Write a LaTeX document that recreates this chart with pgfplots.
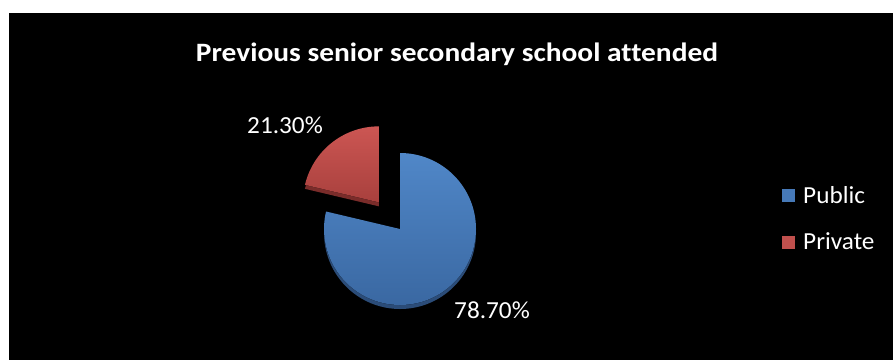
\documentclass[border=0pt]{standalone}
\usepackage{pgfplots}
\pgfplotsset{compat=1.18}
\usepackage{pgfplotstable}
\usepackage{fontspec}
\setmainfont{Carlito}[Ligatures=CommonOff, FakeStretch=1.03]
\newfontfamily\titlefont{Carlito}[Ligatures=CommonOff, FakeStretch=1.11]
\definecolor{bluetop}{HTML}{5087C8}
\definecolor{bluebot}{HTML}{3A68A2}
\definecolor{bluerim}{HTML}{2B4C78}
\definecolor{redtop}{HTML}{CC5653}
\definecolor{redbot}{HTML}{A8403D}
\definecolor{redrim}{HTML}{7A2C2A}
\definecolor{bluemark}{HTML}{4679B8}
\definecolor{redmark}{HTML}{C0504D}
\pgfplotstableread{
label value
Public 78.7
Private 21.3
}\piedata
\begin{document}
\begin{tikzpicture}
\pgfplotstablegetelem{0}{value}\of\piedata \let\vA\pgfplotsretval
\pgfplotstablegetelem{1}{value}\of\piedata \let\vB\pgfplotsretval
\pgfmathsetmacro\aStart{90}
\pgfmathsetmacro\aEnd{90-3.6*\vA}
\pgfmathsetmacro\bEnd{\aEnd-3.6*\vB}
\pgfmathsetmacro\bMid{(\aEnd+\bEnd)/2}
\begin{axis}[
  x=1pt, y=1pt, xmin=0, xmax=893, ymin=0, ymax=360, y dir=reverse,
  hide axis, clip=false, scale only axis,
  legend style={at={(axis cs:779,219)}, anchor=west, draw=none, fill=none,
    text=white, font=\fontsize{24.5}{28}\selectfont, row sep=26pt,
    nodes={inner sep=1pt},
    /tikz/every odd column/.append style={column sep=7pt}},
  legend cell align=left,
  legend image code/.code={\fill[#1, draw=none] (0pt,-6.5pt) rectangle (13pt,6.5pt);},
]
\fill[white] (axis cs:0,0) rectangle (axis cs:893,360);
\fill[black] (axis cs:9,13) rectangle (axis cs:893,360);
% blue slice: rim then face
\fill[bluerim] ([yshift=-4pt]axis cs:400,229) -- +(\aStart:76pt) arc[start angle=\aStart, end angle=\aEnd, radius=76pt] -- cycle;
\fill[top color=bluetop, bottom color=bluebot] (axis cs:400,229) -- +(\aStart:76pt) arc[start angle=\aStart, end angle=\aEnd, radius=76pt] -- cycle;
% red slice (exploded)
\fill[redrim] ([shift={(\bMid:34pt)}, yshift=-4pt]axis cs:400,229) -- +(\aEnd:76pt) arc[start angle=\aEnd, end angle=\bEnd, radius=76pt] -- cycle;
\fill[top color=redtop, bottom color=redbot] ([shift={(\bMid:34pt)}]axis cs:400,229) -- +(\aEnd:76pt) arc[start angle=\aEnd, end angle=\bEnd, radius=76pt] -- cycle;
% labels
\node[white, anchor=base, font=\fontsize{26.5}{30}\selectfont\titlefont\bfseries] at (axis cs:457,61) {Previous senior secondary school attended};
\node[white, anchor=base, font=\fontsize{24.5}{28}\selectfont] at (axis cs:285,133) {21.30\%};
\node[white, anchor=base, font=\fontsize{24.5}{28}\selectfont] at (axis cs:492,318) {78.70\%};
\addlegendimage{fill=bluemark}
\addlegendentry{Public}
\addlegendimage{fill=redmark}
\addlegendentry{Private}
\end{axis}
\end{tikzpicture}
\end{document}
